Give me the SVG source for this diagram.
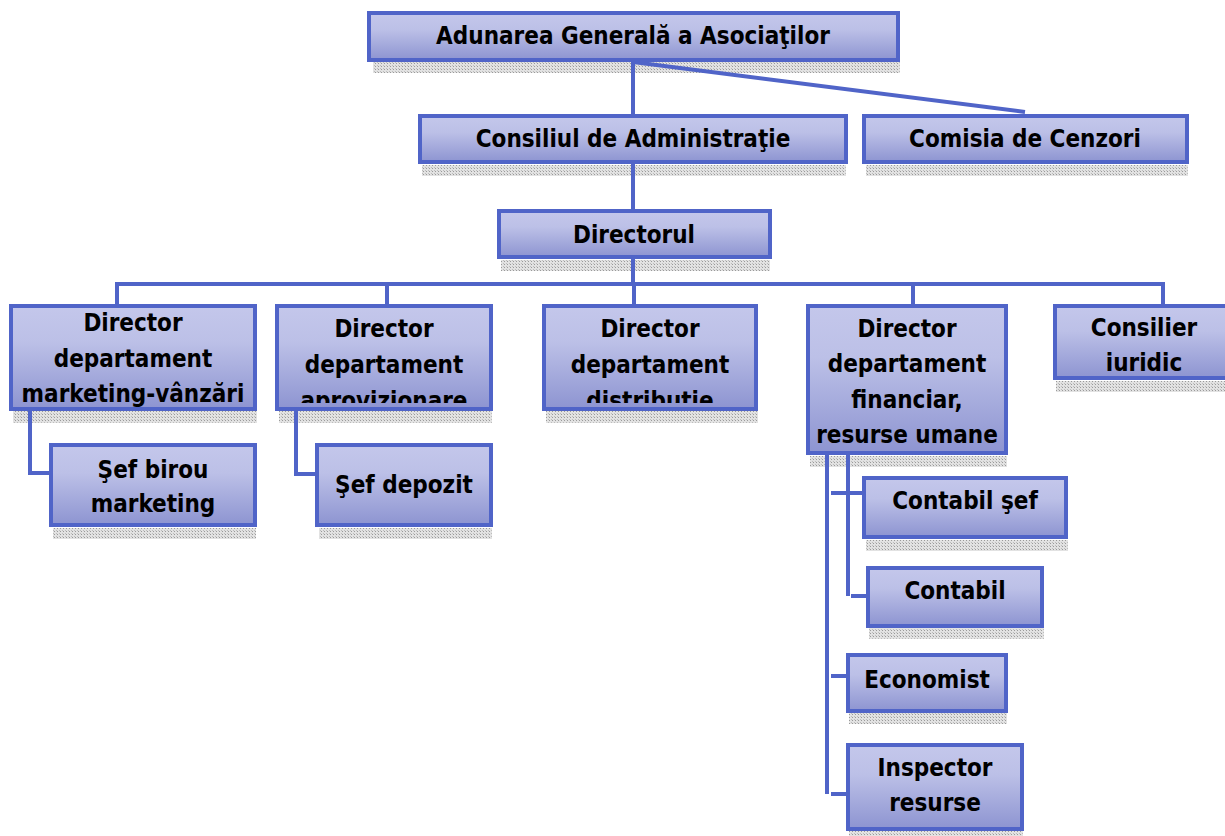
<svg xmlns="http://www.w3.org/2000/svg" width="1225" height="836" viewBox="0 0 1225 836">
<defs>
<linearGradient id="g" x1="0" y1="0" x2="0" y2="1">
<stop offset="0" stop-color="#c4c7eb"/>
<stop offset="0.35" stop-color="#bcc0e7"/>
<stop offset="1" stop-color="#8d94d1"/>
</linearGradient>
<pattern id="sh" width="3" height="3" patternUnits="userSpaceOnUse">
<rect width="3" height="3" fill="#e2e2e2"/>
<rect width="1" height="1" fill="#9a9a9a"/>
<rect x="2" y="2" width="1" height="1" fill="#bdbdbd"/>
</pattern>
<clipPath id="c6"><rect x="277" y="306" width="214" height="97"/></clipPath>
<clipPath id="c7"><rect x="544" y="306" width="212" height="97"/></clipPath>
</defs>
<style>
.b{fill:url(#g);stroke:#5064c8;stroke-width:4}
.s{fill:url(#sh)}
.t{font-family:"DejaVu Sans Condensed","DejaVu Sans",sans-serif;font-weight:bold;font-size:24px;fill:#000;text-anchor:middle}
.l{stroke:#5064c8;stroke-width:4;fill:none}
</style>
<g id="shadows">
<rect class="s" x="373" y="62" width="527" height="11"/>
<rect class="s" x="422" y="165" width="424" height="11"/>
<rect class="s" x="866" y="165" width="322" height="11"/>
<rect class="s" x="501" y="260" width="269" height="11"/>
<rect class="s" x="13" y="411" width="244" height="12"/>
<rect class="s" x="279" y="411" width="213" height="12"/>
<rect class="s" x="546" y="411" width="212" height="12"/>
<rect class="s" x="810" y="456" width="197" height="11"/>
<rect class="s" x="1056" y="381" width="169" height="11"/>
<rect class="s" x="53" y="528" width="203" height="11"/>
<rect class="s" x="319" y="528" width="173" height="11"/>
<rect class="s" x="866" y="540" width="202" height="11"/>
<rect class="s" x="869" y="628" width="175" height="11"/>
<rect class="s" x="849" y="713" width="158" height="11"/>
<rect class="s" x="849" y="830" width="174" height="6"/>
</g>
<g id="connectors">
<path class="l" d="M633 60 V114"/>
<path class="l" d="M633 62 L1025 112"/>
<path class="l" d="M633 162 V209"/>
<path class="l" d="M633 257 V284"/>
<path class="l" d="M117 304 V284 H1163 V304"/>
<path class="l" d="M387 284 V304"/>
<path class="l" d="M634 284 V304"/>
<path class="l" d="M913 284 V304"/>
<path class="l" d="M30 410 V473 H49"/>
<path class="l" d="M296 410 V474 H315"/>
<path class="l" d="M827 455 V794"/>
<path class="l" d="M848 455 V596"/>
<path class="l" d="M831 493 H863"/>
<path class="l" d="M851 596 H868"/>
<path class="l" d="M831 676 H848"/>
<path class="l" d="M831 794 H848"/>
</g>
<g id="n1"><rect class="b" x="369" y="13" width="529" height="47"/><text class="t" x="633" y="44">Adunarea Generală a Asociaţilor</text></g>
<g id="n2"><rect class="b" x="420" y="116" width="426" height="46"/><text class="t" x="633" y="147">Consiliul de Administraţie</text></g>
<g id="n3"><rect class="b" x="864" y="116" width="323" height="46"/><text class="t" x="1025" y="147">Comisia de Cenzori</text></g>
<g id="n4"><rect class="b" x="499" y="211" width="271" height="46"/><text class="t" x="634" y="243">Directorul</text></g>
<g id="n5"><rect class="b" x="11" y="306" width="244" height="103"/><text class="t" x="133" y="331">Director</text><text class="t" x="133" y="367">departament</text><text class="t" x="133" y="402">marketing-vânzări</text></g>
<g id="n6"><rect class="b" x="277" y="306" width="214" height="103"/><g clip-path="url(#c6)"><text class="t" x="384" y="337">Director</text><text class="t" x="384" y="373">departament</text><text class="t" x="384" y="409">aprovizionare</text></g></g>
<g id="n7"><rect class="b" x="544" y="306" width="212" height="103"/><g clip-path="url(#c7)"><text class="t" x="650" y="337">Director</text><text class="t" x="650" y="373">departament</text><text class="t" x="650" y="409">distribuţie</text></g></g>
<g id="n8"><rect class="b" x="808" y="306" width="198" height="147"/><text class="t" x="907" y="337">Director</text><text class="t" x="907" y="372">departament</text><text class="t" x="907" y="408">financiar,</text><text class="t" x="907" y="443">resurse umane</text></g>
<g id="n9"><rect class="b" x="1055" y="306" width="174" height="72"/><text class="t" x="1144" y="336">Consilier</text><text class="t" x="1144" y="371">iuridic</text></g>
<g id="n10"><rect class="b" x="51" y="445" width="204" height="80"/><text class="t" x="153" y="478">Şef birou</text><text class="t" x="153" y="512">marketing</text></g>
<g id="n11"><rect class="b" x="317" y="445" width="174" height="80"/><text class="t" x="404" y="493">Şef depozit</text></g>
<g id="n12"><rect class="b" x="864" y="478" width="202" height="59"/><text class="t" x="965" y="509">Contabil şef</text></g>
<g id="n13"><rect class="b" x="868" y="568" width="174" height="58"/><text class="t" x="955" y="599">Contabil</text></g>
<g id="n14"><rect class="b" x="848" y="655" width="158" height="56"/><text class="t" x="927" y="688">Economist</text></g>
<g id="n15"><rect class="b" x="848" y="745" width="174" height="84"/><text class="t" x="935" y="776">Inspector</text><text class="t" x="935" y="811">resurse</text></g>
</svg>
